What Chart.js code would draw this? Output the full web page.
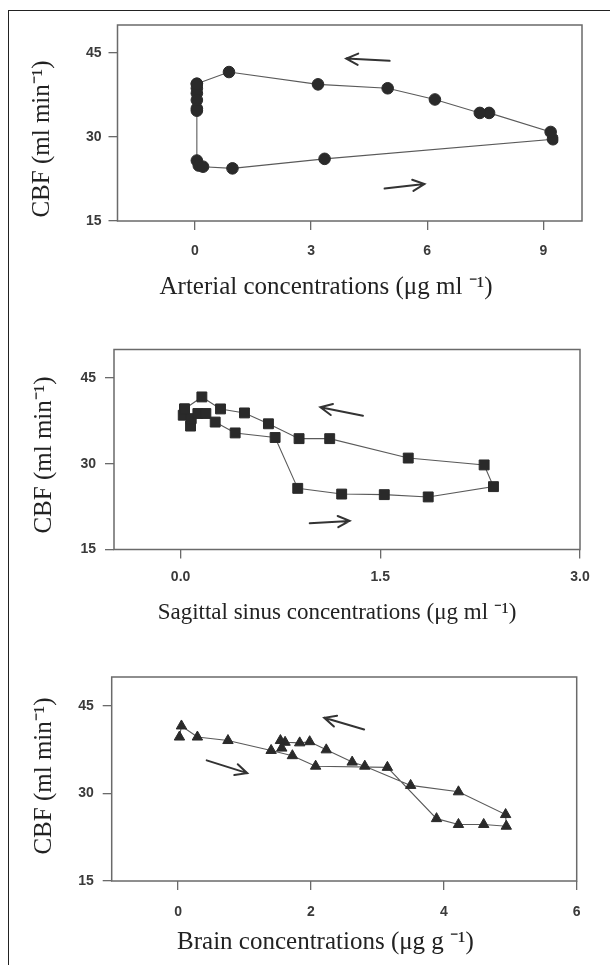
<!DOCTYPE html>
<html><head><meta charset="utf-8">
<script src="https://cdn.jsdelivr.net/npm/chart.js@4.4.1/dist/chart.umd.min.js"></script>
<style>
html,body{margin:0;padding:0;background:#fff;width:610px;height:965px;overflow:hidden;}
#frame{position:absolute;left:8px;top:10px;width:620px;height:970px;border-left:1.5px solid #222;border-top:1.5px solid #222;}
canvas{position:absolute;left:0;}
</style></head><body>
<div id="frame"></div>
<canvas id="c1" width="610" height="320" style="top:0px"></canvas>
<canvas id="c2" width="610" height="320" style="top:320px"></canvas>
<canvas id="c3" width="610" height="325" style="top:640px"></canvas>
<script>
// ---------- DATA ----------
const yTicks = [15, 30, 45];
const yTitle = 'CBF (ml min\u207B\u00B9)';

// Panel 1: arterial
const arterialTitle = 'Arterial concentrations (\u03BCg ml \u207B\u00B9)';
const arterialTicks = [0, 3, 6, 9];
const arterialConc = [0.05,0.05,0.05,0.05,0.05,0.05,0.05,0.10,0.21,0.97,3.35,9.25,9.19,7.60,7.36,6.20,4.98,3.18,0.88,0.05];
const arterialCBF  = [39.5,38.7,37.8,36.6,35.1,34.7,25.8,24.9,24.7,24.4,26.1,29.6,30.9,34.3,34.3,36.7,38.7,39.4,41.6,39.5];
const arterialArrows = [[5.03,43.6,3.91,44.0],[4.90,20.8,5.93,21.6]];

// Panel 2: sagittal sinus
const sinusTitle = 'Sagittal sinus concentrations (\u03BCg ml \u207B\u00B9)';
const sinusTicks = [0.0, 1.5, 3.0];
const sinusConc = [0.03,0.02,0.075,0.08,0.13,0.19,0.26,0.41,0.71,0.88,1.21,1.53,1.86,2.35,2.28,1.71,1.12,0.89,0.66,0.48,0.30,0.16,0.03];
const sinusCBF  = [39.6,38.5,36.6,37.9,38.8,38.8,37.3,35.4,34.6,25.7,24.7,24.6,24.2,26.0,29.8,31.0,34.4,34.4,37.0,38.9,39.6,41.7,39.6];
const sinusArrows = [[1.37,38.4,1.05,39.9],[0.97,19.6,1.27,20.0]];

// Panel 3: brain
const brainTitle = 'Brain concentrations (\u03BCg g \u207B\u00B9)';
const brainTicks = [0, 2, 4, 6];
const brainConc = [0.02,0.05,0.29,0.75,1.40,1.72,2.07,3.15,3.89,4.22,4.60,4.94,4.93,4.22,3.50,2.81,2.62,2.23,1.98,1.83,1.61,1.54,1.56];
const brainCBF  = [39.7,41.6,39.7,39.1,37.4,36.5,34.7,34.5,25.7,24.7,24.7,24.4,26.4,30.3,31.4,34.7,35.4,37.5,38.9,38.7,38.8,39.1,37.8];
const brainArrows = [[2.80,41.0,2.20,43.0],[0.43,35.7,1.04,33.5]];

// ---------- RENDERING ----------
const MARK = '#2a2a2a', LINE = '#5a5a5a', BOX = '#6a6a6a', TXT = '#3a3a3a';
const SERIF = "'Liberation Serif','Times New Roman',serif";
const tickFont = {family:"'Liberation Sans',Arial,sans-serif", size:14, weight:'bold'};

const boxArrows = {
  id:'boxArrows',
  afterDatasetsDraw(chart, args, o){
    const ctx = chart.ctx, a = chart.chartArea, xs = chart.scales.x, ys = chart.scales.y;
    ctx.save();
    ctx.strokeStyle = BOX; ctx.lineWidth = 1.5;
    ctx.strokeRect(a.left, a.top, a.right - a.left, a.bottom - a.top);
    ctx.strokeStyle = '#333'; ctx.lineWidth = 2; ctx.lineCap = 'round';
    (o.arrows || []).forEach(([x0,y0,x1,y1]) => {
      const px0 = xs.getPixelForValue(x0), py0 = ys.getPixelForValue(y0);
      const px1 = xs.getPixelForValue(x1), py1 = ys.getPixelForValue(y1);
      const ang = Math.atan2(py1 - py0, px1 - px0), L = 13, s = 0.45;
      ctx.beginPath();
      ctx.moveTo(px0, py0); ctx.lineTo(px1, py1);
      ctx.moveTo(px1 - L*Math.cos(ang - s), py1 - L*Math.sin(ang - s));
      ctx.lineTo(px1, py1);
      ctx.lineTo(px1 - L*Math.cos(ang + s), py1 - L*Math.sin(ang + s));
      ctx.stroke();
    });
    ctx.restore();
  }
};
const titleShift = {
  id:'titleShift',
  afterLayout(chart, args, o){
    const xs = chart.scales.x, ys = chart.scales.y;
    const dx = o.xTitleX - (xs.left + xs.right)/2; xs.left += dx; xs.right += dx;
    const dy = o.yTitleY - (ys.top + ys.bottom)/2; ys.top += dy; ys.bottom += dy;
  }
};

function makeChart(id, g, conc, cbf, xMin, xMax, xTicks, fmt, xTitle, arrows, pStyle, pRadius){
  const xFont = {family:SERIF, size:g.xfs}, yFont = {family:SERIF, size:25};
  const lhX = g.xfs * 1.2, lhY = 25 * 1.2;
  new Chart(document.getElementById(id), {
    type:'scatter',
    data:{datasets:[{
      data: conc.map((x,i)=>({x, y: cbf[i]})),
      showLine:true, borderColor:LINE, borderWidth:1.1,
      pointStyle:pStyle, pointRadius:pRadius, pointBackgroundColor:MARK,
      pointBorderColor:MARK, pointBorderWidth:1, tension:0
    }]},
    options:{
      responsive:false, animation:false, events:[],
      layout:{padding:{top:g.T, right:610 - g.R, left:0, bottom:0}},
      plugins:{legend:{display:false}, tooltip:{enabled:false},
        boxArrows:{arrows}, titleShift:{xTitleX:g.xtx, yTitleY:g.yty}},
      scales:{
        x:{type:'linear', min:xMin, max:xMax,
          afterBuildTicks:s=>{s.ticks = xTicks.map(v=>({value:v}));},
          afterFit:s=>{s.height = g.H - g.B;},
          grid:{drawOnChartArea:false, drawTicks:true, tickLength:9, color:BOX, lineWidth:1.3},
          border:{display:false},
          ticks:{font:tickFont, color:TXT, padding:g.xp, maxRotation:0, autoSkip:false, callback:v=>fmt(v)},
          title:{display:true, text:xTitle, font:xFont, color:'#222',
            padding:{top:0, bottom:g.H - g.xty - lhX/2}}
        },
        y:{type:'linear', min:15, max:50,
          afterBuildTicks:s=>{s.ticks = yTicks.map(v=>({value:v}));},
          afterFit:s=>{s.width = g.L;},
          grid:{drawOnChartArea:false, drawTicks:true, tickLength:9, color:BOX, lineWidth:1.3},
          border:{display:false},
          ticks:{font:tickFont, color:TXT, padding:g.yp},
          title:{display:true, text:yTitle, font:yFont, color:'#222',
            padding:{top:g.ytx - lhY/2, bottom:0}}
        }
      }
    },
    plugins:[boxArrows, titleShift]
  });
}

makeChart('c1', {L:117.5, R:582, T:25, B:221, H:320, xp:13, yp:7, xtx:326, xty:287, ytx:42, yty:139, xfs:25},
  arterialConc, arterialCBF, -2, 10, arterialTicks, v=>String(v), arterialTitle, arterialArrows, 'circle', 5.8);
makeChart('c2', {L:114, R:580, T:29.5, B:229.5, H:320, xp:10, yp:9, xtx:337, xty:293, ytx:44, yty:135, xfs:23},
  sinusConc, sinusCBF, -0.5, 3.0, sinusTicks, v=>v.toFixed(1), sinusTitle, sinusArrows, 'rect', 7);
makeChart('c3', {L:111.7, R:576.7, T:37, B:241, H:325, xp:14, yp:9, xtx:325.5, xty:302, ytx:44, yty:136, xfs:25},
  brainConc, brainCBF, -1, 6, brainTicks, v=>String(v), brainTitle, brainArrows, 'triangle', 6);
</script>
</body></html>
